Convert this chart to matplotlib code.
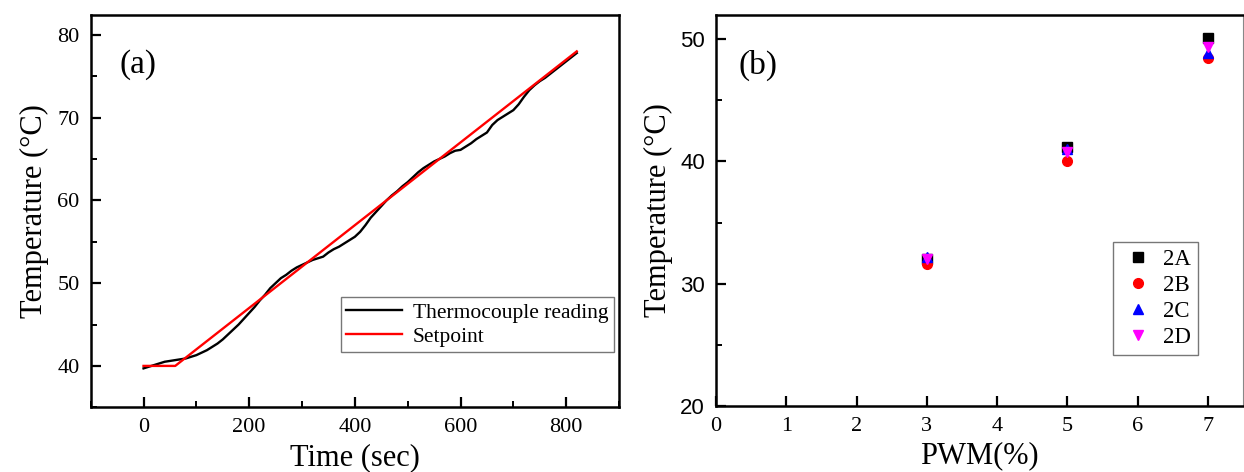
import matplotlib
matplotlib.use("Agg")
from matplotlib import pyplot as plt
from matplotlib.ticker import MultipleLocator

plt.rcParams['font.family'] = ['Liberation Serif', 'DejaVu Serif']
plt.rcParams['mathtext.fontset'] = 'stix'

# (a) thermocouple reading vs setpoint
time_s = list(range(0, 830, 10))
thermo = [39.7, 39.9, 40.1, 40.3, 40.5, 40.6, 40.7, 40.8, 40.9, 41.1,
          41.3, 41.6, 41.9, 42.3, 42.7, 43.2, 43.8, 44.4, 45.0, 45.7,
          46.4, 47.1, 47.9, 48.6, 49.4, 50.0, 50.6, 51.0, 51.5, 51.9,
          52.2, 52.5, 52.8, 53.0, 53.2, 53.7, 54.1, 54.4, 54.8, 55.2,
          55.6, 56.2, 57.0, 57.9, 58.6, 59.3, 60.0, 60.6, 61.1, 61.7,
          62.2, 62.8, 63.4, 63.9, 64.3, 64.7, 65.0, 65.3, 65.7, 66.0,
          66.1, 66.5, 66.9, 67.4, 67.8, 68.2, 69.1, 69.7, 70.1, 70.5,
          70.9, 71.6, 72.5, 73.3, 73.9, 74.4, 74.8, 75.3, 75.8, 76.3,
          76.8, 77.3, 77.8]
set_t = [0, 60, 820]
set_T = [40, 40, 78]

# (b) temperature vs PWM
pwm = [3, 5, 7]
t_2A = [32.0, 41.2, 50.1]
t_2B = [31.6, 40.0, 48.5]
t_2C = [32.2, 41.0, 48.9]
t_2D = [32.0, 40.8, 49.4]

fig = plt.figure(figsize=(12.44, 4.72), dpi=100)
ax1 = fig.add_axes([0.0729, 0.1371, 0.4247, 0.8312])
ax2 = fig.add_axes([0.5756, 0.1405, 0.4236, 0.8278])

ax1.plot(time_s, thermo, color='black', lw=1.7, label='Thermocouple reading')
ax1.plot(set_t, set_T, color='red', lw=1.7, label='Setpoint')
ax1.set_xlim(-100, 900)
ax1.set_ylim(35, 82.4)
ax1.xaxis.set_major_locator(MultipleLocator(200))
ax1.xaxis.set_minor_locator(MultipleLocator(100))
ax1.yaxis.set_major_locator(MultipleLocator(10))
ax1.yaxis.set_minor_locator(MultipleLocator(5))
ax1.set_xticks([0, 200, 400, 600, 800])
ax1.set_xlabel('Time (sec)', fontsize=22, labelpad=4)
ax1.set_ylabel('Temperature (°C)', fontsize=22, labelpad=6)
ax1.text(0.055, 0.873, '(a)', transform=ax1.transAxes, fontsize=24, va='center')
leg1 = ax1.legend(loc='lower right', bbox_to_anchor=(0.99, 0.14), fontsize=15.5,
                  fancybox=False, handlelength=2.6, borderpad=0.25,
                  labelspacing=0.2, handletextpad=0.5, borderaxespad=0)
leg1.get_frame().set_edgecolor('#555555')
leg1.get_frame().set_linewidth(1.0)

ax2.plot(pwm, t_2A, 's', color='black', ms=6.5, label='2A')
ax2.plot(pwm, t_2B, 'o', color='red', ms=7, label='2B')
ax2.plot(pwm, t_2C, '^', color='blue', ms=7.5, label='2C')
ax2.plot(pwm, t_2D, 'v', color='magenta', ms=7.5, label='2D')
ax2.set_xlim(0, 7.5)
ax2.set_ylim(20, 52)
ax2.xaxis.set_major_locator(MultipleLocator(1))
ax2.yaxis.set_major_locator(MultipleLocator(10))
ax2.yaxis.set_minor_locator(MultipleLocator(5))
ax2.set_xlabel('PWM(%)', fontsize=22, labelpad=4)
ax2.set_ylabel('Temperature (°C)', fontsize=22, labelpad=5)
ax2.text(0.042, 0.872, '(b)', transform=ax2.transAxes, fontsize=24, va='center')
leg2 = ax2.legend(loc='lower right', bbox_to_anchor=(0.915, 0.13), fontsize=16.5,
                  fancybox=False, handlelength=1.6, borderpad=0.3,
                  labelspacing=0.22, handletextpad=0.3, borderaxespad=0)
leg2.get_frame().set_edgecolor('#555555')
leg2.get_frame().set_linewidth(1.0)

for ax in (ax1, ax2):
    ax.tick_params(which='major', direction='in', length=7, width=1.6, labelsize=16, pad=8)
    ax.tick_params(which='minor', direction='in', length=4, width=1.4)
    for s in ax.spines.values():
        s.set_linewidth(1.8)
ax2.tick_params(axis='y', labelsize=16)
for lab in ax2.get_yticklabels():
    lab.set_family(['Liberation Sans', 'DejaVu Sans'])
ax2.spines['right'].set_linewidth(0.8)
ax2.spines['right'].set_color('#888888')

fig.savefig('out.png', dpi=100)
